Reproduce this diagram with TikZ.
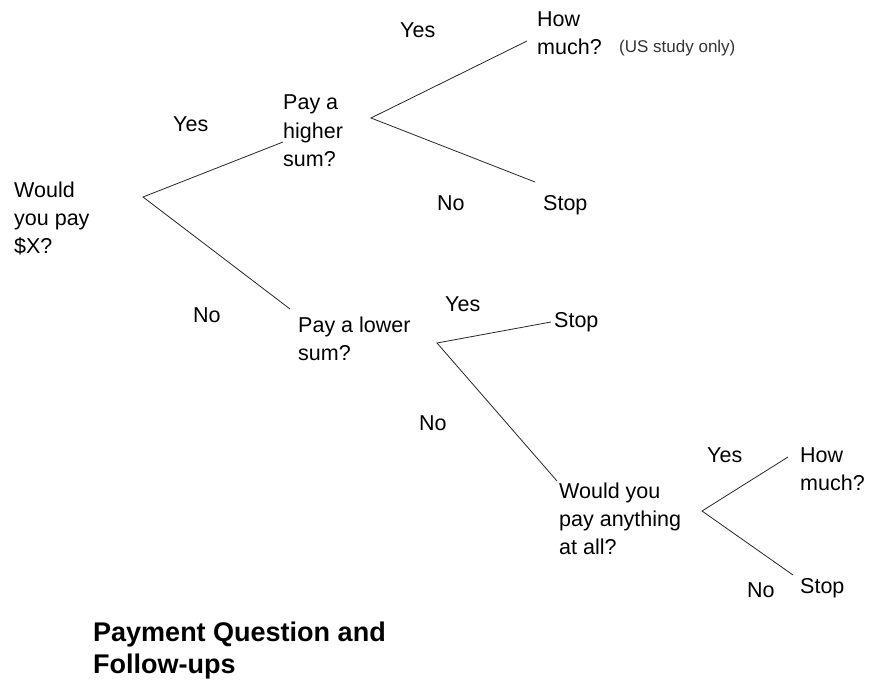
\documentclass[tikz,border=0pt]{standalone}
\usepackage{fontspec}
\setmainfont{Liberation Sans}
\begin{document}
\begin{tikzpicture}[x=1pt,y=-1pt,
  txt/.style={inner sep=0pt,anchor=base west,align=left,font=\fontsize{21.5}{28}\selectfont},
  note/.style={inner sep=0pt,anchor=base west,font=\fontsize{17}{20}\selectfont,text=black!80},
  ttl/.style={inner sep=0pt,anchor=base west,align=left,font=\fontsize{27}{32}\selectfont\bfseries},
  branch/.style={line width=0.8pt,draw=black!85}]
\useasboundingbox (0,0) rectangle (874,687);
% texts (anchor = baseline of the last line)
\node[txt] (q1) at (14,253) {Would\\you pay\\\$X?};
\node[txt] (y1) at (173,132) {Yes};
\node[txt] (n1) at (193,322) {No};
\node[txt] (q2) at (283,166) {Pay a\\higher\\sum?};
\node[txt] (q3) at (298,360) {Pay a lower\\sum?};
\node[txt] (y2) at (400,38) {Yes};
\node[txt] (hm1) at (537,55) {How\\much?};
\node[note] (us) at (619,53) {(US study only)};
\node[txt] (n2) at (437,210) {No};
\node[txt] (s1) at (543,210) {Stop};
\node[txt] (y3) at (445,311) {Yes};
\node[txt] (s2) at (554,327) {Stop};
\node[txt] (n3) at (419,430) {No};
\node[txt] (q4) at (559,554) {Would you\\pay anything\\at all?};
\node[txt] (y4) at (707,462) {Yes};
\node[txt] (hm2) at (800,490) {How\\much?};
\node[txt] (n4) at (747,597) {No};
\node[txt] (s3) at (800,593) {Stop};
\node[ttl] (title) at (93,673) {Payment Question and\\Follow-ups};
% branch points and ends
\coordinate (b1) at (143,197);
\coordinate (e1) at (283,142);
\coordinate (e2) at (290,309);
\coordinate (b2) at (371,118);
\coordinate (e3) at (527,41);
\coordinate (e4) at (535,182);
\coordinate (b3) at (437,343);
\coordinate (e5) at (551,322);
\coordinate (e6) at (557,481);
\coordinate (b4) at (702,511);
\coordinate (e7) at (788,457);
\coordinate (e8) at (793,575);
% connectors
\draw[branch] (e1) -- (b1) -- (e2);
\draw[branch] (e3) -- (b2) -- (e4);
\draw[branch] (e5) -- (b3) -- (e6);
\draw[branch] (e7) -- (b4) -- (e8);
\end{tikzpicture}
\end{document}
